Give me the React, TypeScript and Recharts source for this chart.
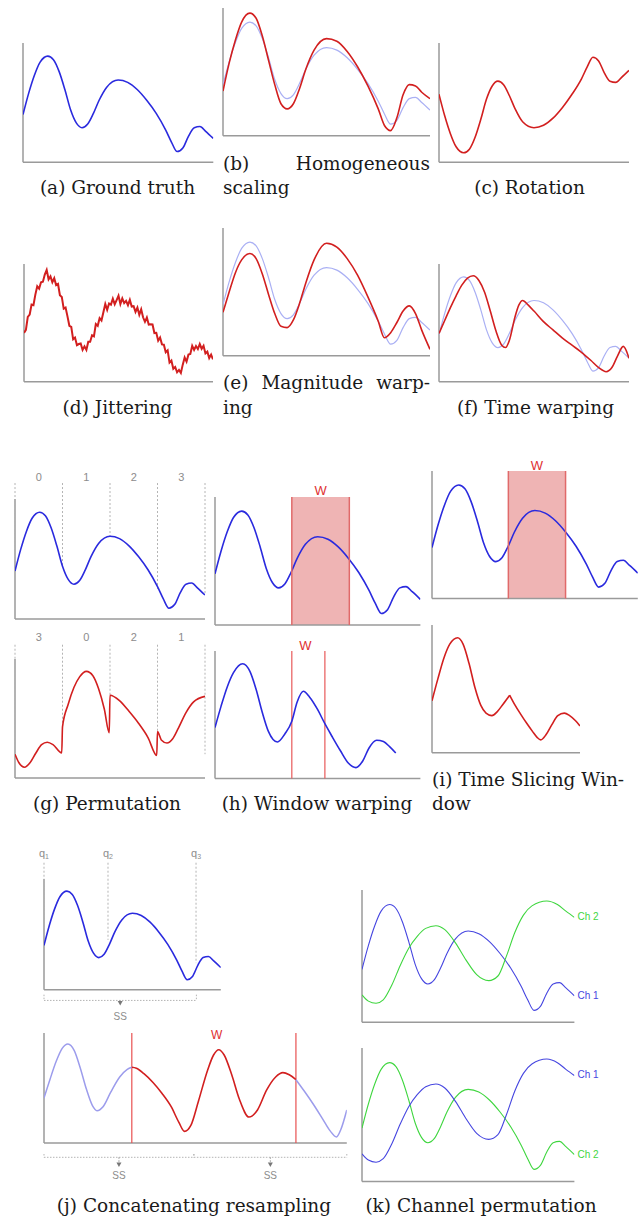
import React from 'react';
import { LineChart, Line, XAxis, YAxis, ReferenceLine, ReferenceArea, ReferenceDot } from 'recharts';

const SERIF = '"DejaVu Serif", serif';
const SANS = '"Liberation Sans", Arial, sans-serif';
const BLUE = '#2a2ade';
const RED = '#d21f1f';
const PALE = '#aab0f4';
const PALE_J = '#9c9cec';
const GREEN = '#3fd63f';
const CH_BLUE = '#4646e0';
const AXIS = '#9a9a9a';
const DASH = '#b4b4b4';
const GRAY_TEXT = '#8c8c8c';
const W_RED = '#e03030';
const WIN = '#e06a6a';

// time positions (percent of the time axis) shared by most curves
const baseT = [0, 3, 6, 9, 13, 16, 19, 22, 25, 28, 31, 34, 37, 40, 44, 50, 55, 60, 65, 70, 75, 78, 81, 84, 87, 90, 93, 96, 100];
const groundTruth = [40, 58, 73, 84, 89, 86, 76, 61, 44, 33, 29, 32, 41, 52, 63, 69, 67, 61, 52, 41, 27, 17, 9, 12, 22, 29, 30, 26, 20];
const scaled = [35, 57, 75, 89, 96, 92, 78, 59, 40, 25, 21, 25, 37, 52, 67, 76, 74, 66, 54, 39, 21, 8, 4, 14, 32, 40, 39, 34, 29];
const rotated = [57, 39, 24, 13, 8, 11, 21, 36, 53, 64, 68, 65, 56, 45, 34, 29, 31, 37, 46, 57, 70, 80, 88, 85, 75, 68, 67, 71, 77];
const magWarped = [34, 50, 65, 75, 80, 76, 64, 48, 33, 23, 22, 28, 41, 57, 75, 88, 85, 76, 63, 46, 27, 14, 18, 26, 35, 39, 33, 20, 5];

// jittered copy, one sample per time step
const jittered = [
  41.5, 44, 55, 57, 65.5, 65, 74, 81, 79, 84.5, 85, 91, 95, 87, 89.5, 84.5, 88, 82, 83, 73.5,
  72, 62, 63, 55.5, 47.5, 46.5, 36, 37.5, 31, 32, 32.5, 27, 30, 27, 34, 34, 39.5, 38.5, 49, 47.5,
  54, 52, 59, 66, 61, 66.5, 65.5, 70.5, 65.8, 69.3, 73, 66, 70.7, 66.7, 68.6, 65, 69.5, 63.8, 64.1, 59.3,
  63, 56.8, 61.5, 54.7, 50.9, 54.5, 48.5, 48.8, 48.6, 41.3, 41.5, 34.8, 37.5, 31.7, 31.4, 25, 26.6, 16.2, 18, 11,
  12.5, 8, 10, 7.5, 14.5, 20.5, 17, 23, 23.5, 30.5, 27, 30.3, 27.7, 32, 28, 30.5, 24, 25.5, 20, 23, 19,
];

const warpT = [0, 3, 6, 9, 12, 15, 18, 21, 24, 27, 30, 33, 35, 37, 40, 42, 44, 47, 50, 55, 60, 65, 70, 75, 80, 84, 88, 91, 94, 97, 100];
const timeWarped = [41, 52, 63, 73, 82, 88, 90, 86, 76, 60, 43, 31, 29, 35, 55, 65, 69, 65, 60, 51, 44, 37, 31, 25, 18, 12, 8.5, 12, 22, 30, 20];

const permT = [0, 2, 5, 8, 11, 14, 17, 20, 24.6, 25, 28, 31, 34, 37.6, 41, 44, 47, 49.6, 50, 55, 60, 65, 70, 74.6, 75, 77, 80, 83, 86, 90, 94, 100];
const permuted = [20, 13, 9, 13, 21, 28, 30, 28, 21, 43, 62, 76, 85, 89.6, 86, 75, 58, 38, 69.5, 65, 56, 46, 34, 19, 39, 32, 29.4, 33, 42, 55, 64, 68.6];
const segBounds = [0, 25, 50, 75, 100];
const segCenters = [12.5, 37.5, 62.5, 87.5];
const segOrderTop = ['0', '1', '2', '3'];
const segOrderBottom = ['3', '0', '2', '1'];
const segStopsTop = [40, 44, 68, 24, 21];
const segStopsBottom = [20, 43, 69.5, 39, 20];

const wwT = [0, 3, 6, 9, 13.5, 17, 20, 23, 26, 30.4, 34, 37.4, 40, 43, 46, 50, 53.5, 57, 61, 65, 68.6, 72, 75, 78.7, 82, 85, 88];
const windowWarped = [40, 57, 72, 83, 90, 84, 70, 52, 37, 28.7, 35, 45, 60, 68.4, 64, 54, 43, 33, 22, 12, 8.6, 14, 24, 30, 29, 25, 20];
const hWindow = [37.4, 65.4];
const hWarpWindow = [37.4, 53.5];
const iWindow = [37.1, 64.9];

const sliceT1 = [0, 4, 8, 12, 17.3, 21, 25, 29, 33, 36.5, 40.5, 44, 48, 52.5];
const sliced1 = [40.7, 58, 74, 85, 90, 85, 70, 51, 37, 31, 29, 32, 38, 45];
const sliceT2 = [52.5, 56, 60, 64, 68, 71, 73.5, 77, 81, 85, 89.4, 93, 97, 100];
const sliced2 = [45, 37.5, 30, 23, 16.5, 12, 10, 14, 22, 29, 31, 29, 25, 21];

const qPos = [0, 36.2, 86];
const qStops = [40, 45, 24];
const qNames = ['1', '2', '3'];

const crT1 = [0, 2, 4, 6, 7.9, 10, 12, 14, 16, 17.5, 19.5, 22, 25, 27.5, 29];
const crBlue1 = [40.9, 58, 74, 86, 90, 84, 68, 49, 34, 29.4, 33, 46, 60, 67, 68.8];
const crTw = [29, 30.5, 33, 36, 39, 42, 44.5, 46.4, 48.5, 51, 54, 56, 57.7, 59.5, 62, 64.5, 67.7, 70.5, 73.5, 76.5, 78.9, 81, 83.2];
const crRed = [68.8, 68, 63, 55, 45, 33, 19, 10.6, 16, 38, 66, 80, 84.8, 80, 62, 40, 23.6, 30, 48, 60, 64, 62, 57.6];
const crT2 = [83.2, 86, 89, 92, 94.5, 96.6, 98, 100];
const crBlue2 = [57.6, 47, 35, 22, 11, 5.5, 12, 30];
const jWindow = [29, 83.2];

const swapT = [0, 3, 6.6, 10, 14, 18, 22, 26, 30, 34.8, 39, 44, 49, 54, 59.7, 64, 68, 72, 76, 80, 87, 92, 96, 100];
const swapped = [20.7, 16, 14.4, 17, 28, 43, 56, 65, 71, 73, 70, 60, 47, 36, 31.5, 35, 50, 68, 81, 88, 91.7, 89, 84, 79.3];

const pts = (ts: number[], vs: number[]) => vs.map((v, i) => ({ t: ts[i], v }));
const gtPts = pts(baseT, groundTruth);
const jitterPts = jittered.map((v, i) => ({ t: i, v }));

// plot boxes in page pixels: left, top, width, height
const BOX: Record<string, number[]> = {
  a: [22.7, 43, 190.3, 119.3],
  b: [223, 8.3, 207, 127.7],
  c: [439, 43, 190, 119.3],
  d: [24, 264, 189, 117.7],
  e: [223, 228, 207, 127.7],
  f: [439, 264, 190, 117.7],
  gTop: [15.3, 499, 190, 120],
  gBot: [15.3, 659.3, 190, 119],
  hTop: [215.3, 496.7, 205.4, 128],
  hBot: [215.3, 650.7, 205.4, 127.6],
  iTop: [431.8, 470.7, 205.8, 127.6],
  iBot: [431.8, 625, 148, 127.7],
  jTop: [44.2, 879.3, 176.8, 110.7],
  kTop: [362, 890, 212.4, 132.3],
  jBot: [44.2, 1033.3, 302.8, 110],
  kBot: [362, 1048.3, 212.4, 133.4],
};

const PAD = { top: 40, right: 40, bottom: 45, left: 12 };

function Panel({ box, children }: { box: number[]; children: React.ReactNode }) {
  const [x, y, w, h] = box;
  return (
    <div style={{ position: 'absolute', left: x - PAD.left, top: y - PAD.top }}>
      <LineChart width={w + PAD.left + PAD.right} height={h + PAD.top + PAD.bottom} margin={PAD}>
        <XAxis type="number" dataKey="t" domain={[0, 100]} allowDataOverflow hide height={0} />
        <YAxis type="number" domain={[0, 100]} allowDataOverflow hide width={0} />
        <ReferenceLine segment={[{ x: 0, y: 0 }, { x: 100, y: 0 }]} stroke={AXIS} strokeWidth={1.5} ifOverflow="visible" />
        <ReferenceLine segment={[{ x: 0, y: 0 }, { x: 0, y: 100 }]} stroke={AXIS} strokeWidth={1.5} ifOverflow="visible" />
        {children}
      </LineChart>
    </div>
  );
}

const curve = (key: string, data: { t: number; v: number }[], stroke: string, width = 1.6, type: any = 'monotone') => (
  <Line key={key} data={data} dataKey="v" type={type} stroke={stroke} strokeWidth={width}
    dot={false} activeDot={false} isAnimationActive={false} />
);

const seg = (key: string, x1: number, y1: number, x2: number, y2: number, stroke: string, dash?: string, width = 1) => (
  <ReferenceLine key={key} segment={[{ x: x1, y: y1 }, { x: x2, y: y2 }]} stroke={stroke}
    strokeWidth={width} strokeDasharray={dash} ifOverflow="visible" />
);

const note = (key: string, x: number, y: number, content: React.ReactNode, color: string, size: number, anchor = 'middle') => (
  <ReferenceDot key={key} x={x} y={y} r={0} ifOverflow="visible"
    shape={(p: any) => (
      <text x={p.cx} y={p.cy} fill={color} fontSize={size} fontFamily={SANS} textAnchor={anchor} dominantBaseline="central">
        {content}
      </text>
    )} />
);

const arrowHead = (key: string, x: number, y: number) => (
  <ReferenceDot key={key} x={x} y={y} r={0} ifOverflow="visible"
    shape={(p: any) => (
      <path d={`M${p.cx - 2.5},${p.cy - 2.5}L${p.cx + 2.5},${p.cy - 2.5}L${p.cx},${p.cy + 2}Z`} fill="#777" />
    )} />
);

// dotted bracket under the axis with a down arrow and "SS"
const bracket = (key: string, x1: number, x2: number, yLine: number, yTick: number, yArrow: number, ySS: number) => [
  seg(`${key}h`, x1, yLine, x2, yLine, DASH, '1.5 1.5'),
  seg(`${key}l`, x1, yTick, x1, yLine, DASH, '1.5 1.5'),
  seg(`${key}r`, x2, yTick, x2, yLine, DASH, '1.5 1.5'),
  seg(`${key}a`, (x1 + x2) / 2, yLine, (x1 + x2) / 2, yArrow, '#999', '1.5 1.5'),
  arrowHead(`${key}t`, (x1 + x2) / 2, yArrow),
  note(`${key}s`, (x1 + x2) / 2, ySS, 'SS', GRAY_TEXT, 10),
];

function Caption({ cx, left, cy, children }: { cx?: number; left?: number; cy: number; children: React.ReactNode }) {
  const style: React.CSSProperties = {
    position: 'absolute', top: cy - 12, fontFamily: SERIF, fontSize: 18.5, lineHeight: '22px',
    color: '#1a1a1a', whiteSpace: 'nowrap',
  };
  if (cx !== undefined) {
    Object.assign(style, { left: cx - 150, width: 300, textAlign: 'center' });
  } else {
    Object.assign(style, { left });
  }
  return <div style={style}>{children}</div>;
}

function Spread({ left, width, cy, words }: { left: number; width: number; cy: number; words: string[] }) {
  return (
    <div style={{
      position: 'absolute', left, top: cy - 12, width, display: 'flex', justifyContent: 'space-between',
      fontFamily: SERIF, fontSize: 18.5, lineHeight: '22px', color: '#1a1a1a', whiteSpace: 'nowrap',
    }}>
      {words.map((w) => <span key={w}>{w}</span>)}
    </div>
  );
}

export default function App() {
  return (
    <div style={{ position: 'absolute', left: 0, top: 0, width: 644, height: 1219, overflow: 'hidden', background: '#fff' }}>
      <Panel box={BOX.a}>{curve('a', gtPts, BLUE)}</Panel>
      <Panel box={BOX.b}>
        {curve('b0', gtPts, PALE, 1.2)}
        {curve('b1', pts(baseT, scaled), RED)}
      </Panel>
      <Panel box={BOX.c}>{curve('c', pts(baseT, rotated), RED)}</Panel>

      <Panel box={BOX.d}>{curve('d', jitterPts, RED, 2, 'linear')}</Panel>
      <Panel box={BOX.e}>
        {curve('e0', gtPts, PALE, 1.2)}
        {curve('e1', pts(baseT, magWarped), RED)}
      </Panel>
      <Panel box={BOX.f}>
        {curve('f0', gtPts, PALE, 1.2)}
        {curve('f1', pts(warpT, timeWarped), RED)}
      </Panel>

      <Panel box={BOX.gTop}>
        {segBounds.map((x, i) => seg(`gt${i}`, x, 113.3, x, segStopsTop[i], DASH, '2 2'))}
        {segCenters.map((x, i) => note(`gl${i}`, x, 118.3, segOrderTop[i], GRAY_TEXT, 11))}
        {curve('g0', gtPts, BLUE)}
      </Panel>
      <Panel box={BOX.gBot}>
        {segBounds.map((x, i) => seg(`gb${i}`, x, 112, x, segStopsBottom[i], DASH, '2 2'))}
        {segCenters.map((x, i) => note(`gm${i}`, x, 118.7, segOrderBottom[i], GRAY_TEXT, 11))}
        {curve('g1', pts(permT, permuted), RED)}
      </Panel>

      <Panel box={BOX.hTop}>
        {curve('h0', gtPts, BLUE)}
        <ReferenceArea x1={hWindow[0]} x2={hWindow[1]} y1={0} y2={100} fill={WIN} fillOpacity={0.5} stroke="none" ifOverflow="visible" />
        {hWindow.map((x, i) => seg(`hw${i}`, x, 0, x, 100, WIN, undefined, 1.5))}
        {note('hW', 51.4, 105.2, 'W', W_RED, 13)}
      </Panel>
      <Panel box={BOX.hBot}>
        {hWarpWindow.map((x, i) => seg(`hv${i}`, x, 0, x, 100, '#e85a5a', undefined, 1.2))}
        {note('hW2', 44, 104.5, 'W', W_RED, 13)}
        {curve('h1', pts(wwT, windowWarped), BLUE)}
      </Panel>

      <Panel box={BOX.iTop}>
        {curve('i0', gtPts, BLUE)}
        <ReferenceArea x1={iWindow[0]} x2={iWindow[1]} y1={0} y2={100} fill={WIN} fillOpacity={0.5} stroke="none" ifOverflow="visible" />
        {iWindow.map((x, i) => seg(`iw${i}`, x, 0, x, 100, WIN, undefined, 1.5))}
        {note('iW', 51, 104.5, 'W', W_RED, 13)}
      </Panel>
      <Panel box={BOX.iBot}>
        {curve('i1', pts(sliceT1, sliced1), RED)}
        {curve('i2', pts(sliceT2, sliced2), RED)}
      </Panel>

      <Panel box={BOX.jTop}>
        {qPos.map((x, i) => seg(`q${i}`, x, 114.7, x, qStops[i], DASH, '2 2'))}
        {qPos.map((x, i) => note(`ql${i}`, x, 123.8,
          <>q<tspan fontSize={7} dy={3}>{qNames[i]}</tspan></>, GRAY_TEXT, 11))}
        {bracket('jb', 0, 86.2, -9.7, -4.5, -12.5, -24.4)}
        {curve('j0', gtPts, BLUE)}
      </Panel>
      <Panel box={BOX.kTop}>
        {curve('k0', gtPts, CH_BLUE, 1.1)}
        {curve('k1', pts(swapT, swapped), GREEN, 1.1)}
        {note('kc2', 101.5, 79.6, 'Ch 2', GREEN, 10, 'start')}
        {note('kc1', 101.5, 20, 'Ch 1', CH_BLUE, 10, 'start')}
      </Panel>

      <Panel box={BOX.jBot}>
        {jWindow.map((x, i) => seg(`jw${i}`, x, 0, x, 100, '#e85050', undefined, 1.2))}
        {note('jW', 57, 98.5, 'W', W_RED, 12)}
        {bracket('jc', 0, 49.5, -13, -10, -20, -29.7)}
        {bracket('jd', 49.5, 100, -13, -10, -20, -29.7)}
        {curve('j1', pts(crT1, crBlue1), PALE_J, 1.5)}
        {curve('j2', pts(crTw, crRed), RED)}
        {curve('j3', pts(crT2, crBlue2), PALE_J, 1.5)}
      </Panel>
      <Panel box={BOX.kBot}>
        {curve('k2', gtPts, GREEN, 1.1)}
        {curve('k3', pts(swapT, swapped), CH_BLUE, 1.1)}
        {note('kc3', 101.5, 80, 'Ch 1', CH_BLUE, 10, 'start')}
        {note('kc4', 101.5, 20, 'Ch 2', GREEN, 10, 'start')}
      </Panel>

      <Caption cx={117.5} cy={189}>(a) Ground truth</Caption>
      <Spread left={223} width={207} cy={165} words={['(b)', 'Homogeneous']} />
      <Caption left={223} cy={189}>scaling</Caption>
      <Caption cx={529.5} cy={189}>(c) Rotation</Caption>

      <Caption cx={117.5} cy={409}>(d) Jittering</Caption>
      <Spread left={223} width={207} cy={384} words={['(e)', 'Magnitude', 'warp-']} />
      <Caption left={223} cy={409}>ing</Caption>
      <Caption cx={535.5} cy={409}>(f) Time warping</Caption>

      <Caption cx={107} cy={805}>(g) Permutation</Caption>
      <Caption cx={317} cy={805}>(h) Window warping</Caption>
      <Caption left={432} cy={781}>(i) Time Slicing Win-</Caption>
      <Caption left={432} cy={805}>dow</Caption>

      <Caption cx={194} cy={1207}>(j) Concatenating resampling</Caption>
      <Caption cx={481} cy={1207}>(k) Channel permutation</Caption>
    </div>
  );
}
